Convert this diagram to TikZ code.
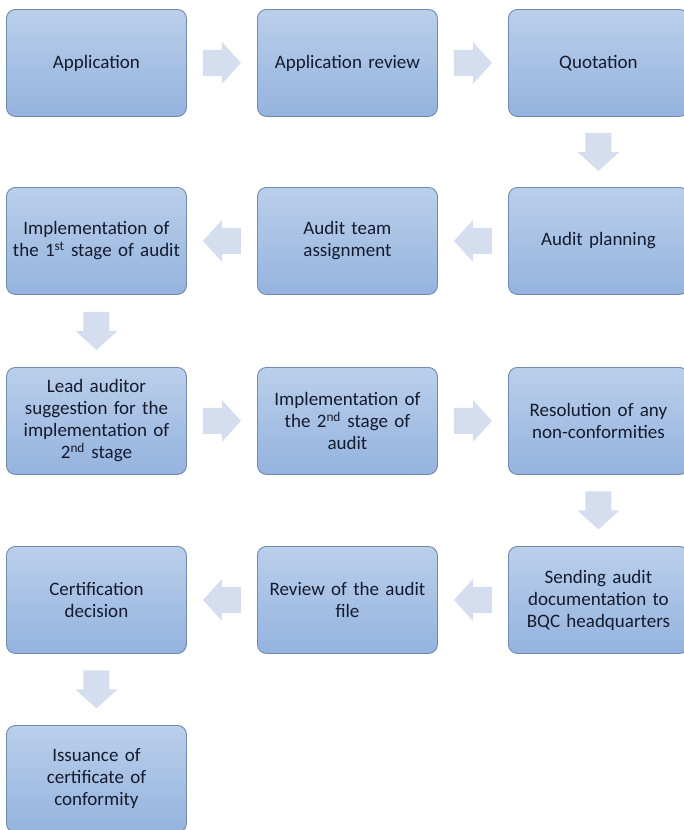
\documentclass[tikz,border=0pt]{standalone}
\usepackage{fontspec}
\setmainfont{Carlito}
\usetikzlibrary{positioning,calc}
\definecolor{boxtop}{HTML}{BACFEA}
\definecolor{boxbot}{HTML}{95B3DF}
\definecolor{boxline}{HTML}{7189AA}
\definecolor{arrowc}{HTML}{D4DEEE}
\definecolor{txt}{HTML}{151B2E}
\tikzset{
  flowbox/.style={draw=boxline, line width=0.9pt, rounded corners=9pt,
    top color=boxtop, bottom color=boxbot, minimum width=180pt, minimum height=107pt,
    text width=176pt, align=center, text=txt, anchor=north west,
    font=\fontsize{19}{22}\selectfont, inner sep=0pt},
}
% block arrow from point a to point b
\newcommand{\blockarrow}[2]{%
  \path let \p1=(#1), \p2=(#2), \n1={atan2(\y2-\y1,\x2-\x1)} in
    [fill=arrowc, rotate around={\n1:(\p1)}]
    (\x1,\y1) ++(0,13pt) -- ++(19pt,0) -- ++(0,8pt) -- ++(19pt,-21pt) -- ++(-19pt,-21pt) -- ++(0,8pt) -- ++(-19pt,0) -- cycle;}
\begin{document}
\begin{tikzpicture}[x=1pt,y=-1pt]
\useasboundingbox (0,0) rectangle (684,830);
% row 1
\node[flowbox] (n1) at (6,9) {Application};
\node[flowbox] (n2) at (257,9) {Application review};
\node[flowbox] (n3) at (508,9) {Quotation};
% row 2
\node[flowbox] (n4) at (508,187) {Audit planning};
\node[flowbox] (n5) at (257,187) {Audit team\\assignment};
\node[flowbox] (n6) at (6,187) {Implementation of\\the 1\textsuperscript{st} stage of audit};
% row 3
\node[flowbox] (n7) at (6,367) {Lead auditor\\suggestion for the\\implementation of\\2\textsuperscript{nd} stage};
\node[flowbox] (n8) at (257,367) {Implementation of\\the 2\textsuperscript{nd} stage of\\audit};
\node[flowbox] (n9) at (508,367) {Resolution of any\\non-conformities};
% row 4
\node[flowbox] (n10) at (508,546) {Sending audit\\documentation to\\BQC headquarters};
\node[flowbox] (n11) at (257,546) {Review of the audit\\file};
\node[flowbox] (n12) at (6,546) {Certification\\decision};
% row 5
\node[flowbox] (n13) at (6,725) {Issuance of\\certificate of\\conformity};
% arrows (start points at gap middles)
\coordinate (a1) at ($(n1.east)!0.5!(n2.west)+(-19,0)$);
\coordinate (b1) at ($(n1.east)!0.5!(n2.west)+(19,0)$);
\blockarrow{a1}{b1}
\coordinate (a2) at ($(n2.east)!0.5!(n3.west)+(-19,0)$);
\coordinate (b2) at ($(n2.east)!0.5!(n3.west)+(19,0)$);
\blockarrow{a2}{b2}
\coordinate (a3) at ($(n3.south)!0.5!(n4.north)+(0,-19)$);
\coordinate (b3) at ($(n3.south)!0.5!(n4.north)+(0,19)$);
\blockarrow{a3}{b3}
\coordinate (a4) at ($(n4.west)!0.5!(n5.east)+(19,0)$);
\coordinate (b4) at ($(n4.west)!0.5!(n5.east)+(-19,0)$);
\blockarrow{a4}{b4}
\coordinate (a5) at ($(n5.west)!0.5!(n6.east)+(19,0)$);
\coordinate (b5) at ($(n5.west)!0.5!(n6.east)+(-19,0)$);
\blockarrow{a5}{b5}
\coordinate (a6) at ($(n6.south)!0.5!(n7.north)+(0,-19)$);
\coordinate (b6) at ($(n6.south)!0.5!(n7.north)+(0,19)$);
\blockarrow{a6}{b6}
\coordinate (a7) at ($(n7.east)!0.5!(n8.west)+(-19,0)$);
\coordinate (b7) at ($(n7.east)!0.5!(n8.west)+(19,0)$);
\blockarrow{a7}{b7}
\coordinate (a8) at ($(n8.east)!0.5!(n9.west)+(-19,0)$);
\coordinate (b8) at ($(n8.east)!0.5!(n9.west)+(19,0)$);
\blockarrow{a8}{b8}
\coordinate (a9) at ($(n9.south)!0.5!(n10.north)+(0,-19)$);
\coordinate (b9) at ($(n9.south)!0.5!(n10.north)+(0,19)$);
\blockarrow{a9}{b9}
\coordinate (a10) at ($(n10.west)!0.5!(n11.east)+(19,0)$);
\coordinate (b10) at ($(n10.west)!0.5!(n11.east)+(-19,0)$);
\blockarrow{a10}{b10}
\coordinate (a11) at ($(n11.west)!0.5!(n12.east)+(19,0)$);
\coordinate (b11) at ($(n11.west)!0.5!(n12.east)+(-19,0)$);
\blockarrow{a11}{b11}
\coordinate (a12) at ($(n12.south)!0.5!(n13.north)+(0,-19)$);
\coordinate (b12) at ($(n12.south)!0.5!(n13.north)+(0,19)$);
\blockarrow{a12}{b12}
\end{tikzpicture}
\end{document}
